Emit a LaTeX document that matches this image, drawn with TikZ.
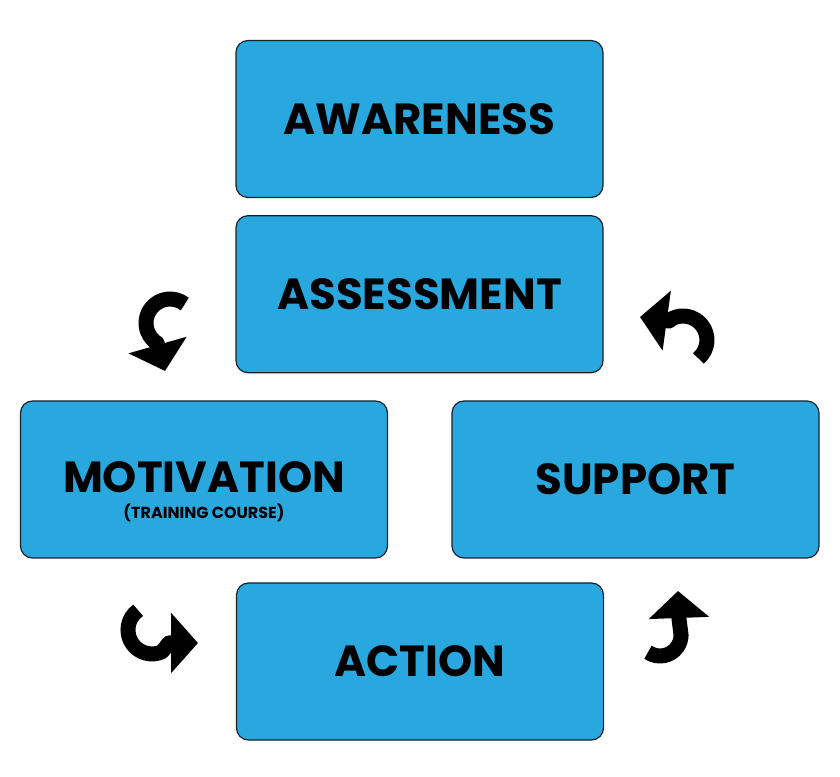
\documentclass[tikz,border=0pt]{standalone}
\usepackage{fontspec}
\setmainfont{Poppins}
\usetikzlibrary{arrows.meta, positioning, calc}
\definecolor{stageblue}{RGB}{41,168,224}
\definecolor{stageedge}{RGB}{22,34,44}

\begin{document}
\begin{tikzpicture}[x=1pt, y=1pt,
  stage/.style={rectangle, rounded corners=12pt, draw=stageedge, line width=1.2pt, fill=stageblue, minimum width=367pt, minimum height=157pt, inner sep=0pt, align=center, font=\fontsize{43.5}{46}\selectfont\bfseries},
  curl/.style={-{Triangle[length=27pt, width=59pt]}, line width=15pt, line join=round, draw=black}
]
\useasboundingbox[fill=white] (0,0) rectangle (840,776);
\node[stage] (aware) at (419.5,657) {AWARENESS};
\node[stage, below=17pt of aware] (assess) {ASSESSMENT};
\node[stage] (motiv) at (204,296.5) {\rule{0pt}{56pt}MOTIVATION\\[-20pt]{\fontsize{16}{18}\selectfont (TRAINING COURSE)}};
\node[stage] (support) at (635.5,296.5) {SUPPORT};
\node[stage] (action) at (420,114.5) {ACTION};
% curly arrows round the cycle
\coordinate (c1s) at (184.8,471.9); \coordinate (c1b) at (157,433); \coordinate (c1t) at (165,405);
\coordinate (c2s) at (698.4,417.6); \coordinate (c2b) at (669,455); \coordinate (c2t) at (640,459);
\coordinate (c3s) at (138.2,165.7); \coordinate (c3b) at (169,133); \coordinate (c3t) at (198,133);
\coordinate (c4s) at (648,123.8); \coordinate (c4b) at (679,157); \coordinate (c4t) at (678,185);
\draw[curl] (c1s) arc[start angle=52, end angle=237, radius=24] -- (c1b) -- (c1t);
\draw[curl] (c2s) arc[start angle=-50, end angle=115, radius=24] -- (c2b) -- (c2t);
\draw[curl] (c3s) arc[start angle=125, end angle=295, radius=24] -- (c3b) -- (c3t);
\draw[curl] (c4s) arc[start angle=235, end angle=360, radius=21] -- (c4b) -- (c4t);
\end{tikzpicture}
\end{document}
